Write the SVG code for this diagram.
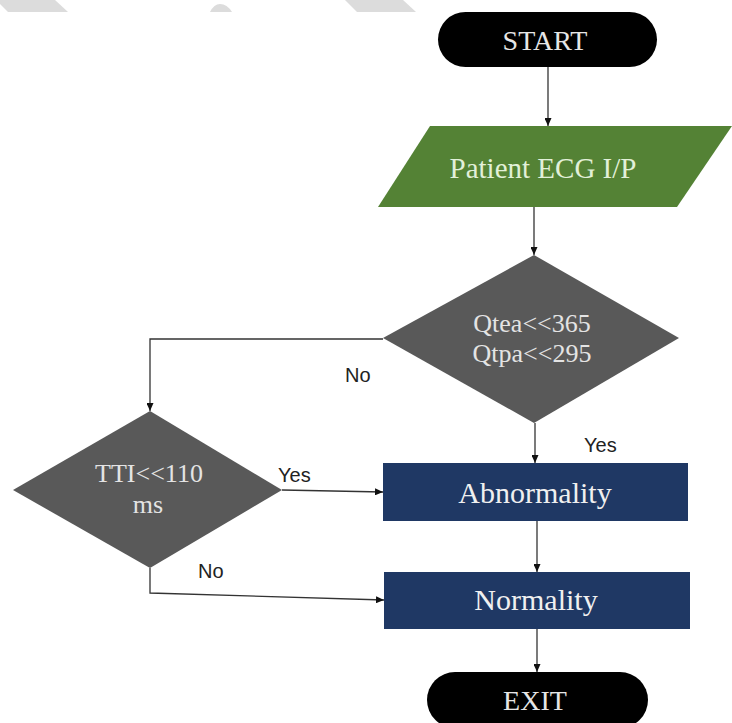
<svg xmlns="http://www.w3.org/2000/svg" width="732" height="723" viewBox="0 0 732 723">
  <defs>
    <marker id="arr" markerUnits="userSpaceOnUse" markerWidth="8" markerHeight="7" refX="8" refY="3.5" orient="auto">
      <path d="M0,0 L8,3.5 L0,7 z" fill="#111"/>
    </marker>
    <style>
      .conn { fill: none; stroke: #333; stroke-width: 1.3; marker-end: url(#arr); }
      .serif { font-family: "Liberation Serif", "Times New Roman", serif; text-anchor: middle; }
      .lbl { font-family: "Liberation Sans", Arial, sans-serif; font-size: 20px; fill: #222; }
      .wm { fill: #dcdcdc; }
    </style>
  </defs>
  <rect width="732" height="723" fill="#ffffff"/>

  <!-- faint background shapes at top -->
  <g id="watermark">
    <polygon class="wm" points="0,0 55,0 68,12 8,12 0,4"/>
    <path class="wm" d="M210,12 Q214,4 220,4 Q227,4 232,12 z"/>
    <polygon class="wm" points="345,0 403,0 416,12 357,12"/>
  </g>

  <g id="connectors">
    <line class="conn" x1="548" y1="67" x2="548" y2="126"/>
    <line class="conn" x1="534" y1="207" x2="534" y2="255"/>
    <line class="conn" x1="535" y1="423" x2="535" y2="463"/>
    <polyline class="conn" points="383,339 150,339 150,411"/>
    <line class="conn" x1="282" y1="490" x2="383" y2="492"/>
    <polyline class="conn" points="150,568 150,593 384,600"/>
    <line class="conn" x1="537" y1="521" x2="537" y2="572"/>
    <line class="conn" x1="537" y1="629" x2="537" y2="672"/>
  </g>

  <g id="start">
    <rect x="438" y="12" width="219" height="55" rx="27.5" fill="#000"/>
    <text class="serif" x="545" y="50" font-size="28" fill="#e6e6e6">START</text>
  </g>

  <g id="input">
    <polygon points="430,126 732,126 677,207 378,207" fill="#548235"/>
    <text class="serif" x="543" y="178" font-size="29" fill="#e2f0d9">Patient ECG I/P</text>
  </g>

  <g id="decision1">
    <polygon points="534,255 679,338 534,423 383,338" fill="#595959"/>
    <text class="serif" x="532" y="332" font-size="26" fill="#e4e4e4">Qtea&lt;&lt;365</text>
    <text class="serif" x="532" y="362" font-size="26" fill="#e4e4e4">Qtpa&lt;&lt;295</text>
  </g>

  <g id="decision2">
    <polygon points="150,411 282,490 150,568 13,490" fill="#595959"/>
    <text class="serif" x="149" y="482" font-size="26" fill="#e4e4e4">TTI&lt;&lt;110</text>
    <text class="serif" x="148" y="513" font-size="26" fill="#e4e4e4">ms</text>
  </g>

  <g id="abnormality">
    <rect x="383" y="463" width="305" height="58" fill="#1f3864"/>
    <text class="serif" x="535" y="503" font-size="30" fill="#f0f0f0">Abnormality</text>
  </g>

  <g id="normality">
    <rect x="384" y="572" width="306" height="57" fill="#1f3864"/>
    <text class="serif" x="536" y="610" font-size="30" fill="#f0f0f0">Normality</text>
  </g>

  <g id="exit">
    <rect x="427" y="672" width="221" height="56" rx="28" fill="#000"/>
    <text class="serif" x="535" y="710" font-size="28" fill="#e6e6e6">EXIT</text>
  </g>

  <g id="labels">
    <text class="lbl" x="584" y="452">Yes</text>
    <text class="lbl" x="345" y="382" font-size="21">No</text>
    <text class="lbl" x="278" y="482">Yes</text>
    <text class="lbl" x="198" y="578" font-size="21">No</text>
  </g>
</svg>
